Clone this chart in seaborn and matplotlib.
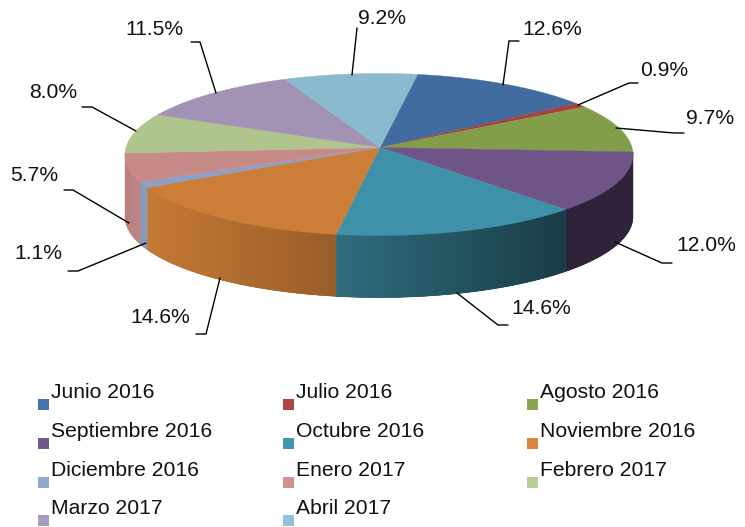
import numpy as np
import matplotlib
matplotlib.use("Agg")
import matplotlib.pyplot as plt
import seaborn as sns

months = ["Junio 2016", "Julio 2016", "Agosto 2016",
          "Septiembre 2016", "Octubre 2016", "Noviembre 2016",
          "Diciembre 2016", "Enero 2017", "Febrero 2017",
          "Marzo 2017", "Abril 2017"]
shares = [12.6, 0.9, 9.7, 12.0, 14.6, 14.6, 1.1, 5.7, 8.0, 11.5, 9.2]
legend_colors = ["#4572a7", "#aa4643", "#89a54e", "#71588f", "#4198af", "#db843d",
                 "#93a9cf", "#d19392", "#b9cd96", "#a99bbd", "#91c3d5"]
top_colors = ["#426c9f", "#a64341", "#829e4b", "#6e5487", "#3e91a8", "#cc7d37",
              "#8aa0c6", "#c68b89", "#b0c48e", "#a293b5", "#8abacd"]

# label anchor (left, baseline) and leader line, pixels of the 745x527 canvas
label_pos = [(522, 35), (640, 76), (686, 124), (676, 251), (511, 314), (130, 323),
             (14, 259), (10, 181), (29, 98), (125, 35), (358, 24)]
leaders = [
    [(519, 41), (509, 41), (503, 85)],
    [(638, 83), (629, 83), (578, 105)],
    [(684, 133), (674, 133), (616, 128)],
    [(672, 263), (662, 263), (615, 242)],
    [(508, 325), (498, 325), (457, 293)],
    [(196, 334), (206, 334), (220, 278)],
    [(68, 271), (78, 271), (146, 243)],
    [(64, 190), (73, 190), (129, 223)],
    [(82, 107), (92, 107), (136, 131)],
    [(191, 42), (200, 42), (216, 93)],
    [(357, 28), (352, 75)],
]

sns.set_theme(style="white")
plt.rcParams["font.family"] = ["Liberation Sans", "DejaVu Sans"]

CX, CY = 379, 147.5
RX, RY = 253, 80.4
PERSP = 0.0864
DEPTH = 62
START = 80.5
FONT = 15.25


def rim(t):
    # circle seen in perspective, so the apex sits above the centre of the ellipse
    s = np.sin(t)
    d = 1 + PERSP * s
    return CX + RX * np.cos(t) / d, CY - RY * s / d


def shade(x):
    return np.interp(x, [125, 145, 333, 564, 632], [0.93, 0.97, 0.75, 0.42, 0.42])


fig = plt.figure(figsize=(7.45, 5.27), dpi=100)
ax = fig.add_axes([0, 0, 1, 1])
ax.set_xlim(0, 745)
ax.set_ylim(527, 0)
ax.axis("off")

edges = START - np.concatenate([[0], np.cumsum(shares)]) * 3.6 * 100 / sum(shares)
rgb = sns.color_palette(top_colors)

# side wall, strip by strip; each strip runs under the next one so no seams show
for i in range(len(shares)):
    hi, lo = min(edges[i], -3), max(edges[i + 1], -176)
    if hi <= lo:
        continue
    # solid base first, thin strips near the ends of the ellipse barely cover a pixel
    x, y = rim(np.radians(np.linspace(hi, lo, 60)))
    ax.fill(np.r_[x, x[::-1]], np.r_[y, y[::-1] + DEPTH],
            color=np.array(rgb[i]) * shade(x.mean()), lw=0.4, zorder=1)
    steps = np.linspace(hi, lo, max(int((hi - lo) / 0.5), 1) + 1)
    for j, (a, b) in enumerate(zip(steps[:-1], steps[1:])):
        # the last strip of a slice stops on the slice edge
        c = steps[j + 2] if j + 2 < len(steps) else b
        x, y = rim(np.radians(np.linspace(a, c, 4)))
        col = np.array(rgb[i]) * shade(x.mean())
        ax.fill(np.r_[x, x[::-1]], np.r_[y, y[::-1] + DEPTH], color=col, lw=0, zorder=1)

# top face
for i in range(len(shares)):
    x, y = rim(np.radians(np.linspace(edges[i], edges[i + 1], 80)))
    ax.fill(np.r_[CX + 1, x], np.r_[CY, y], color=rgb[i], lw=0.3, zorder=2)

for share, (lx, ly), pts in zip(shares, label_pos, leaders):
    ax.text(lx, ly, f"{share:.1f}%", fontsize=FONT, color="#111111", va="baseline", ha="left")
    px, py = zip(*pts)
    ax.plot(px, py, color="black", lw=1.0, zorder=3, solid_joinstyle="miter")

# legend, three columns
col_x = [38, 283, 527]
row_y = [399, 438, 477, 515]
for i, month in enumerate(months):
    x0, y0 = col_x[i % 3], row_y[i // 3]
    ax.fill([x0, x0 + 11, x0 + 11, x0], [y0, y0, y0 + 11, y0 + 11],
            color=legend_colors[i], lw=0, zorder=3, clip_on=False)
    ax.text(x0 + 13, y0 - 1, month, fontsize=FONT, color="#111111", va="baseline", ha="left")

fig.savefig("out.png", dpi=100, facecolor="white")
